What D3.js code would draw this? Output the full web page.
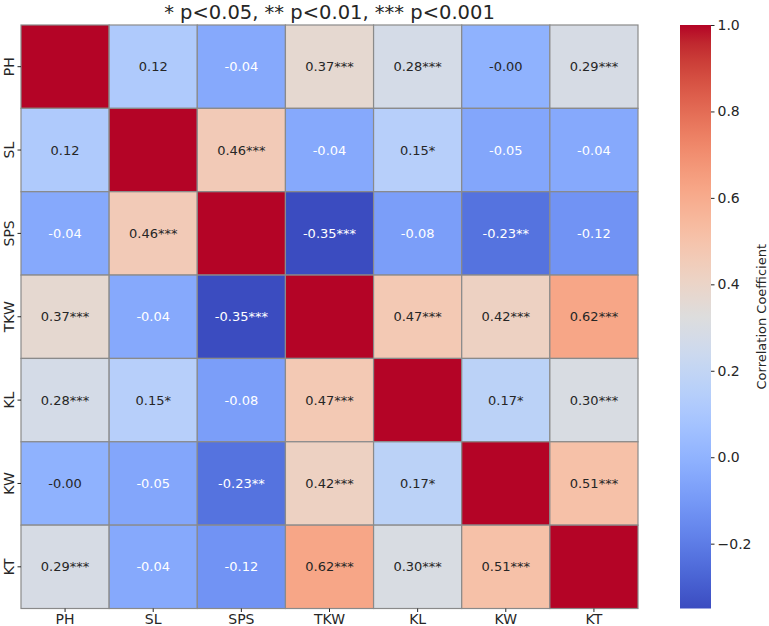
<!DOCTYPE html>
<html>
<head>
<meta charset="utf-8">
<script src="https://cdn.jsdelivr.net/npm/d3@7"></script>
<style>
  body { margin: 0; background: #fff; }
  text { font-family: "DejaVu Sans", sans-serif; fill: #262626; }
</style>
</head>
<body>
<svg id="chart" width="769" height="626"></svg>
<script>
// variable names (rows and columns share the same order)
const traits = ["PH", "SL", "SPS", "TKW", "KL", "KW", "KT"];

// correlation coefficients, row by row
const corr = [
  [1.00, 0.12, -0.04, 0.37, 0.28, -0.003, 0.29],
  [0.12, 1.00, 0.46, -0.04, 0.15, -0.05, -0.04],
  [-0.04, 0.46, 1.00, -0.35, -0.08, -0.23, -0.12],
  [0.37, -0.04, -0.35, 1.00, 0.47, 0.42, 0.62],
  [0.28, 0.15, -0.08, 0.47, 1.00, 0.17, 0.30],
  [-0.003, -0.05, -0.23, 0.42, 0.17, 1.00, 0.51],
  [0.29, -0.04, -0.12, 0.62, 0.30, 0.51, 1.00]
];

// significance marks, row by row
const stars = [
  ["", "", "", "***", "***", "", "***"],
  ["", "", "***", "", "*", "", ""],
  ["", "***", "", "***", "", "**", ""],
  ["***", "", "***", "", "***", "***", "***"],
  ["***", "*", "", "***", "", "*", "***"],
  ["", "", "**", "***", "*", "", "***"],
  ["***", "", "", "***", "***", "***", ""]
];

const colorTicks = [-0.2, 0.0, 0.2, 0.4, 0.6, 0.8, 1.0];
const subtitle = "* p<0.05, ** p<0.01, *** p<0.001";

// matplotlib coolwarm
const coolwarm = [
  [0.2298057, 0.298717966, 0.753683153], [0.26623388, 0.353094838, 0.801466763],
  [0.30386891, 0.406535296, 0.84495867], [0.342804478, 0.458757618, 0.883725899],
  [0.38301334, 0.50941904, 0.917387822], [0.424369608, 0.558148092, 0.945619588],
  [0.46666708, 0.604562568, 0.968154911], [0.509635204, 0.648280772, 0.98478814],
  [0.552953156, 0.688929332, 0.995375608], [0.596262162, 0.726149107, 0.999836203],
  [0.639176211, 0.759599947, 0.998151185], [0.681291281, 0.788964712, 0.990363227],
  [0.722193294, 0.813952739, 0.976574709], [0.761464949, 0.834302879, 0.956945269],
  [0.798691636, 0.849786142, 0.931688648], [0.833466556, 0.860207984, 0.901068838],
  [0.865395197, 0.86541021, 0.865395561], [0.897787179, 0.848937047, 0.820880546],
  [0.924127593, 0.827384882, 0.774508472], [0.944468518, 0.800927443, 0.726736146],
  [0.958852946, 0.769767752, 0.678007945], [0.96732803, 0.734132809, 0.628751763],
  [0.969954137, 0.694266682, 0.579375448], [0.966811177, 0.650421156, 0.530263762],
  [0.958003065, 0.602842431, 0.481775914], [0.943660866, 0.551750968, 0.434243684],
  [0.923944917, 0.49730856, 0.387970225], [0.89904617, 0.439559467, 0.343229596],
  [0.869186849, 0.378313092, 0.300267182], [0.834620542, 0.312874446, 0.259301199],
  [0.795631745, 0.24128379, 0.220525627], [0.752534934, 0.157246067, 0.184115123],
  [0.705673158, 0.01555616, 0.150232812]
].map(c => d3.rgb(c[0] * 255, c[1] * 255, c[2] * 255).formatHex());

const vmin = -0.35, vmax = 1.0;
const color = d3.scaleLinear()
  .domain(coolwarm.map((c, i) => vmin + (vmax - vmin) * i / (coolwarm.length - 1)))
  .range(coolwarm)
  .interpolate(d3.interpolateRgb)
  .clamp(true);

// seaborn's rule for annotation colour
function luminance(c) {
  const rgb = d3.rgb(c);
  const lin = v => { v /= 255; return v <= 0.03928 ? v / 12.92 : Math.pow((v + 0.055) / 1.055, 2.4); };
  return 0.2126 * lin(rgb.r) + 0.7152 * lin(rgb.g) + 0.0722 * lin(rgb.b);
}

const svg = d3.select("#chart");
const gLeft = 21, gTop = 25, gRight = 638, gBottom = 608.5;

const x = d3.scaleBand().domain(traits).range([gLeft, gRight]);
const y = d3.scaleBand().domain(traits).range([gTop, gBottom]);

const cells = [];
corr.forEach((row, i) => row.forEach((v, j) => cells.push({ r: traits[i], c: traits[j], v: v, s: stars[i][j], diag: i === j })));

// cells
svg.append("g").selectAll("rect")
  .data(cells)
  .enter()
  .append("rect")
  .attr("x", d => x(d.c))
  .attr("y", d => y(d.r))
  .attr("width", x.bandwidth())
  .attr("height", y.bandwidth())
  .attr("fill", d => color(d.v))
  .attr("stroke", "#8a8a8a")
  .attr("stroke-width", 1.2);

// annotations (diagonal left blank)
svg.append("g").selectAll("text")
  .data(cells.filter(d => !d.diag))
  .enter()
  .append("text")
  .attr("x", d => x(d.c) + x.bandwidth() / 2)
  .attr("y", d => y(d.r) + y.bandwidth() / 2)
  .attr("dy", "0.35em")
  .attr("text-anchor", "middle")
  .style("font-size", "13px")
  .style("fill", d => luminance(color(d.v)) > 0.408 ? "#262626" : "#ffffff")
  .text(d => d.v.toFixed(2) + d.s);

// x axis
const xAxis = svg.append("g")
  .attr("transform", "translate(0," + gBottom + ")")
  .call(d3.axisBottom(x).tickSize(3.5).tickPadding(2));
xAxis.select(".domain").remove();
xAxis.attr("font-family", null);
xAxis.selectAll("line").attr("stroke", "#262626");
xAxis.selectAll("text").style("font-size", "14px");

// y axis
const yAxis = svg.append("g")
  .attr("transform", "translate(" + gLeft + ",0)")
  .call(d3.axisLeft(y).tickSize(3.5).tickPadding(4));
yAxis.select(".domain").remove();
yAxis.attr("font-family", null);
yAxis.selectAll("line").attr("stroke", "#262626");
yAxis.selectAll("text")
  .style("font-size", "14px")
  .attr("text-anchor", "middle")
  .attr("x", null)
  .attr("transform", "translate(-12,0) rotate(-90)")
  .attr("y", 0)
  .attr("dy", "0.35em");

// subtitle
svg.append("text")
  .attr("x", (gLeft + gRight) / 2)
  .attr("y", 18.5)
  .attr("text-anchor", "middle")
  .style("font-size", "19.5px")
  .text(subtitle);

// colorbar
const cbX = 680, cbW = 31;
const cy = d3.scaleLinear().domain([vmin, vmax]).range([gBottom, gTop]);
const grad = svg.append("defs").append("linearGradient")
  .attr("id", "cw").attr("x1", 0).attr("y1", 1).attr("x2", 0).attr("y2", 0);
grad.selectAll("stop")
  .data(coolwarm)
  .enter()
  .append("stop")
  .attr("offset", (d, i) => i / (coolwarm.length - 1))
  .attr("stop-color", d => d);
svg.append("rect")
  .attr("x", cbX).attr("y", gTop)
  .attr("width", cbW).attr("height", gBottom - gTop)
  .attr("fill", "url(#cw)");

const cAxis = svg.append("g")
  .attr("transform", "translate(" + (cbX + cbW) + ",0)")
  .call(d3.axisRight(cy).tickValues(colorTicks).tickFormat(d3.format(".1f")).tickSize(3.5).tickPadding(3));
cAxis.select(".domain").remove();
cAxis.attr("font-family", null);
cAxis.selectAll("line").attr("stroke", "#262626");
cAxis.selectAll("text").style("font-size", "14px");

svg.append("text")
  .attr("transform", "translate(761.5," + (gTop + gBottom) / 2 + ") rotate(-90)")
  .attr("text-anchor", "middle")
  .attr("dy", "0.35em")
  .style("font-size", "13px")
  .text("Correlation Coefficient");
</script>
</body>
</html>
